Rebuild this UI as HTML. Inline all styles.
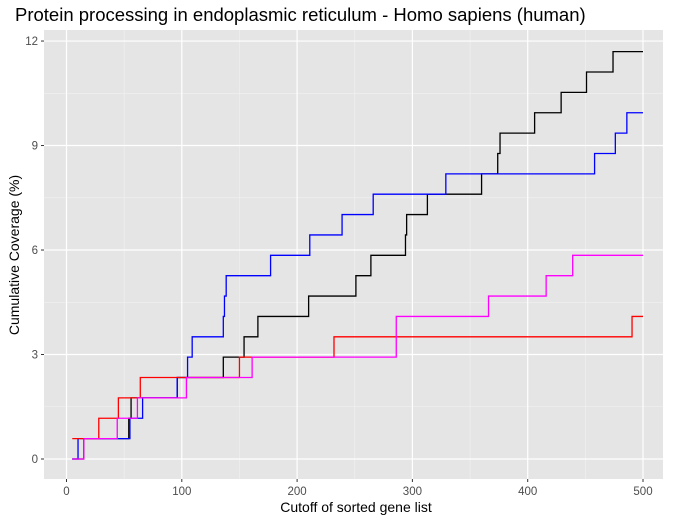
<!DOCTYPE html>
<html><head><meta charset="utf-8"><style>
body{margin:0;background:#fff;font-family:"Liberation Sans",Arial,sans-serif;}
svg text{font-family:"Liberation Sans",Arial,sans-serif;}
</style></head><body>
<svg id="chart" width="678" height="521" xmlns="http://www.w3.org/2000/svg">
<rect width="678" height="521" fill="#fff"/>
<text x="15" y="21" font-size="18.5" fill="#000">Protein processing in endoplasmic reticulum - Homo sapiens (human)</text>
<rect x="44" y="30" width="619" height="449" fill="#e5e5e5"/>
<g id="grid"></g>
<g id="series"></g>
<g id="axes"></g>
<text x="356" y="512" font-size="14" text-anchor="middle" fill="#000">Cutoff of sorted gene list</text>
<text transform="translate(19,255) rotate(-90)" font-size="14" text-anchor="middle" fill="#000">Cumulative Coverage (%)</text>
</svg>
<script>
const xTicks=[0,100,200,300,400,500];
const yTicks=[0,3,6,9,12];
const stepUnit=100/171;
const seriesNames=["black","blue","red","magenta"];
const seriesColors=["#000000","#0000ff","#ff0000","#ff00ff"];
const startCounts=[0,0,1,0];
const blackSteps=[15,54,56,96,136,154,166,210,251,264,294,295,313,360,374,376,406,429,451,474];
const blueSteps=[10,55,66,96,105,109,136,137,138.5,177,211,239,266,329,458,476,486];
const redSteps=[28,45,64,150,232,490.5];
const magentaSteps=[15,44,61.5,104,161,286,286,366,416,439];
const allSteps=[blackSteps,blueSteps,redSteps,magentaSteps];
const xStart=5,xEnd=500;
const X=v=>66.5+v*1.153;
const Y=v=>459-v*34.83;
const NS="http://www.w3.org/2000/svg";
const grid=document.getElementById('grid');
function line(p,x1,y1,x2,y2,stroke,w){const l=document.createElementNS(NS,'line');l.setAttribute('x1',x1);l.setAttribute('y1',y1);l.setAttribute('x2',x2);l.setAttribute('y2',y2);l.setAttribute('stroke',stroke);l.setAttribute('stroke-width',w);p.appendChild(l);return l;}
for(let i=0;i<xTicks.length-1;i++){const m=(xTicks[i]+xTicks[i+1])/2;const l=line(grid,X(m),30,X(m),479,'#f2f2f2',0.6);

}
for(let i=0;i<yTicks.length-1;i++){const m=(yTicks[i]+yTicks[i+1])/2;const l=line(grid,44,Y(m),663,Y(m),'#f2f2f2',0.6);

}
const axes=document.getElementById('axes');
xTicks.forEach(t=>{const l=line(grid,X(t),30,X(t),479,'#fff',1.2);


line(axes,X(t),479,X(t),482,'#333',1);
const tx=document.createElementNS(NS,'text');tx.setAttribute('x',X(t));tx.setAttribute('y',495);tx.setAttribute('font-size','11.5');tx.setAttribute('fill','#4d4d4d');tx.setAttribute('text-anchor','middle');tx.textContent=t;


axes.appendChild(tx);});
yTicks.forEach(t=>{const l=line(grid,44,Y(t),663,Y(t),'#fff',1.2);


line(axes,41,Y(t),44,Y(t),'#333',1);
const tx=document.createElementNS(NS,'text');tx.setAttribute('x',38);tx.setAttribute('y',Y(t)+4);tx.setAttribute('font-size','11.5');tx.setAttribute('fill','#4d4d4d');tx.setAttribute('text-anchor','end');tx.textContent=t;


axes.appendChild(tx);});
const sg=document.getElementById('series');
allSteps.forEach((steps,i)=>{let c=startCounts[i];let d='M'+X(xStart)+','+Y(c*stepUnit);
steps.forEach(s=>{d+=' H'+X(s);c++;d+=' V'+Y(c*stepUnit);});
d+=' H'+X(xEnd);
const p=document.createElementNS(NS,'path');p.setAttribute('d',d);p.setAttribute('fill','none');p.setAttribute('stroke',seriesColors[i]);p.setAttribute('stroke-width','1.3');


sg.appendChild(p);});
</script>
</body></html>
